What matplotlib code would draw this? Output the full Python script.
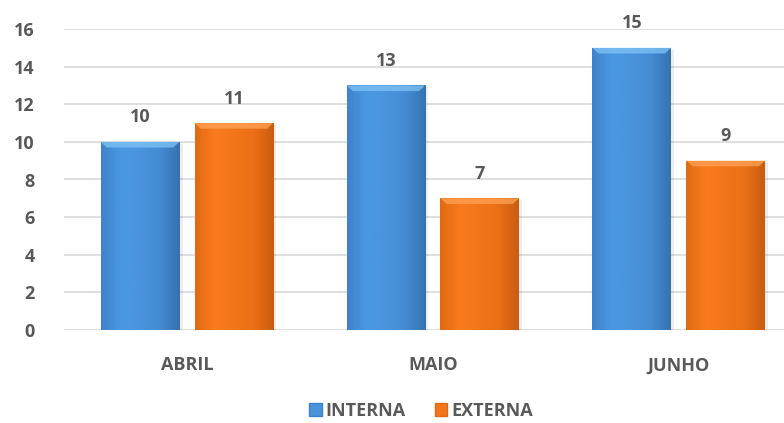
import numpy as np
import matplotlib.pyplot as plt
from matplotlib.colors import LinearSegmentedColormap
from matplotlib.patches import Patch

# dados
meses = ["ABRIL", "MAIO", "JUNHO"]
interna = [10, 13, 15]
externna = [11, 7, 9]
series = ["INTERNA", "EXTERNA"]

plt.rcParams['font.family'] = ['Open Sans', 'DejaVu Sans']
cinza = '#595959'

# gradientes horizontais (efeito de relevo)
cm_azul = LinearSegmentedColormap.from_list(
    "azul", ["#3F82CA", "#4A98E2", "#4A94DC", "#448BD2", "#3672B0"])
cm_laranja = LinearSegmentedColormap.from_list(
    "laranja", ["#E06A12", "#F97B1D", "#F27519", "#EA6F16", "#C85C0F"])

fig = plt.figure(figsize=(7.84, 4.23), dpi=100)
ax = fig.add_axes([64/784, 1 - 330/423, 720/784, 301/423])

x = np.arange(len(meses))
largura = 0.32
desloc = 0.191

grad = np.linspace(0, 1, 256).reshape(1, -1)

def barras(pos, valores, cmap, topo):
    bs = ax.bar(pos, valores, largura, color='none', edgecolor='none', zorder=3)
    for b, v in zip(bs, valores):
        x0, w, h = b.get_x(), b.get_width(), b.get_height()
        # sombra
        ax.bar(x0 + w/2 + 0.008, h, w + 0.01, bottom=-0.1, color='#000000', alpha=0.07, zorder=2)
        im = ax.imshow(grad, extent=(x0, x0 + w, 0, h), aspect='auto',
                       cmap=cmap, zorder=3, interpolation='bicubic')
        im.set_clip_path(b)
        # bisel superior
        ax.fill([x0, x0 + w, x0 + w - 0.025, x0 + 0.025],
                [h, h, h - 0.3, h - 0.3], color=topo, alpha=0.75, zorder=4, lw=0)
        ax.text(x0 + w/2, h + 1.3, str(v), ha='center', va='center',
                fontsize=13, fontweight='bold', color=cinza)
    return bs

barras(x - desloc, interna, cm_azul, '#80C4F6')
barras(x + desloc, externna, cm_laranja, '#FFA356')

ax.set_xlim(-0.5, 2.428)
ax.set_ylim(0, 16)
ax.set_yticks(range(0, 17, 2))
ax.yaxis.grid(True, color='#D9D9D9', lw=1.2, zorder=0)
ax.set_axisbelow(True)
ax.set_xticks(x)
ax.set_xticklabels(meses)
ax.tick_params(length=0, labelsize=13, labelcolor=cinza)
ax.tick_params(axis='x', pad=19)
ax.tick_params(axis='y', pad=21)
for lab in ax.get_xticklabels() + ax.get_yticklabels():
    lab.set_fontweight('bold')
for s in ax.spines.values():
    s.set_visible(False)

handles = [Patch(facecolor='#4A94DC', edgecolor='#3F82CA'),
           Patch(facecolor='#F27519', edgecolor='#E06A12')]
leg = fig.legend(handles, series, loc='center', bbox_to_anchor=(421/784, 1 - 411/423),
                 ncol=2, frameon=False, handlelength=0.7, handleheight=0.7,
                 handletextpad=0.2, columnspacing=1.6,
                 prop={'size': 13, 'weight': 'bold'})
for t in leg.get_texts():
    t.set_color(cinza)

fig.savefig("out.png", dpi=100)
